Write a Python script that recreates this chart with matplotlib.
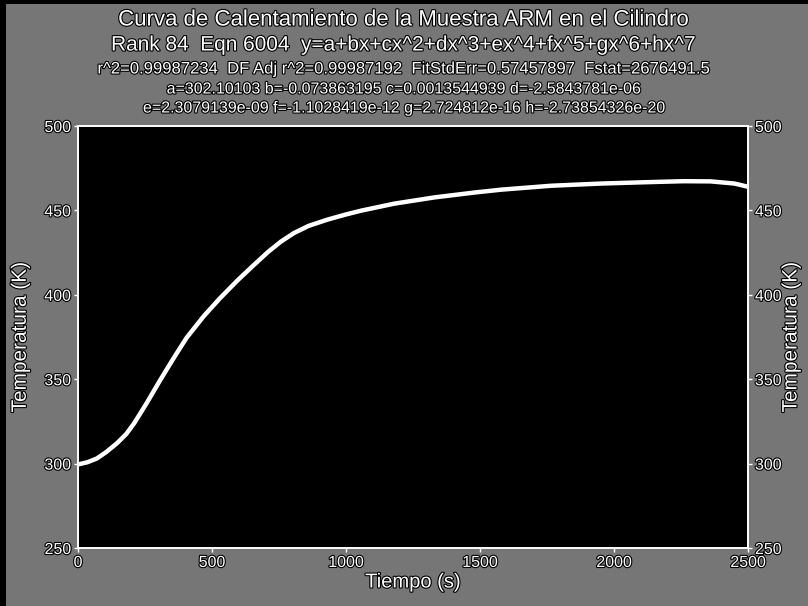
import matplotlib
matplotlib.use('Agg')
import matplotlib.pyplot as plt
import matplotlib.patheffects as pe
from matplotlib.patches import Rectangle

# heating curve (time in s, temperature in K)
tiempo = [0, 35, 70, 105, 145, 180, 210, 255, 305, 355, 405, 470, 530,
          595, 655, 710, 757, 805, 860, 930, 1000, 1055, 1180, 1330, 1480,
          1580, 1765, 1950, 2140, 2260, 2360, 2450, 2500]
temperatura = [299.5, 300.8, 303, 306.8, 312, 317.5, 324, 335.5, 349, 362,
               374.5, 387.5, 398, 408.5, 417.5, 425.5, 431.5, 436.5, 440.8,
               444.5, 447.6, 449.8, 454, 457.7, 460.6, 462.3, 464.6, 465.9,
               466.8, 467.3, 467.2, 465.9, 464]

x_ticks = [0, 500, 1000, 1500, 2000, 2500]
y_ticks = [250, 300, 350, 400, 450, 500]

title_lines = [
    'Curva de Calentamiento de la Muestra ARM en el Cilindro',
    'Rank 84  Eqn 6004  y=a+bx+cx^2+dx^3+ex^4+fx^5+gx^6+hx^7',
    'r^2=0.99987234  DF Adj r^2=0.99987192  FitStdErr=0.57457897  Fstat=2676491.5',
    'a=302.10103 b=-0.073863195 c=0.0013544939 d=-2.5843781e-06',
    'e=2.3079139e-09 f=-1.1028419e-12 g=2.724812e-16 h=-2.73854326e-20',
]
title_sizes = [16, 15, 12, 11.5, 11.5]
title_y = [20, 45, 69, 89, 108]

plt.rcParams['font.family'] = ['Liberation Sans', 'DejaVu Sans']
outline = [pe.withStroke(linewidth=1.6, foreground='black')]

W, H = 808, 606
fig = plt.figure(figsize=(W / 100, H / 100), dpi=100, facecolor='#767676')
ax = fig.add_axes([78 / W, 1 - 548 / H, 670 / W, 422 / H])
ax.set_facecolor('black')

ax.plot(tiempo, temperatura, color='white', lw=3.2, solid_capstyle='round',
        solid_joinstyle='round')

ax.set_xlim(0, 2500)
ax.set_ylim(250, 500)
ax.set_xticks(x_ticks)
ax.set_yticks(y_ticks)

ax2 = ax.twinx()
ax2.set_ylim(250, 500)
ax2.set_yticks(y_ticks)

for a in (ax, ax2):
    for s in a.spines.values():
        s.set_color('white')
        s.set_linewidth(1.2)
    a.tick_params(colors='white', direction='out', length=3, width=1,
                  labelsize=11.5, pad=2)
    for lbl in a.get_xticklabels() + a.get_yticklabels():
        lbl.set_path_effects(outline)

ax.set_xlabel('Tiempo (s)', color='white', fontsize=14.5, path_effects=outline)
ax.xaxis.set_label_coords(0.5, -0.058)
ax.set_ylabel('Temperatura (K)', color='white', fontsize=15, path_effects=outline)
ax.yaxis.set_label_coords(-0.072, 0.5)
ax2.set_ylabel('Temperatura (K)', color='white', fontsize=15, rotation=90,
               path_effects=outline)
ax2.yaxis.set_label_coords(1.05, 0.5)

for line, size, y in zip(title_lines, title_sizes, title_y):
    fig.text(0.5, 1 - y / H, line, ha='center', va='center', color='white',
             fontsize=size, path_effects=outline)

# dark scanner edge along the left and top
fig.add_artist(Rectangle((0, 0), 6 / W, 1, transform=fig.transFigure,
                         color='black', lw=0))
fig.add_artist(Rectangle((0, 1 - 4 / H), 1, 4 / H, transform=fig.transFigure,
                         color='black', lw=0))

fig.savefig('out.png', dpi=100, facecolor=fig.get_facecolor())
